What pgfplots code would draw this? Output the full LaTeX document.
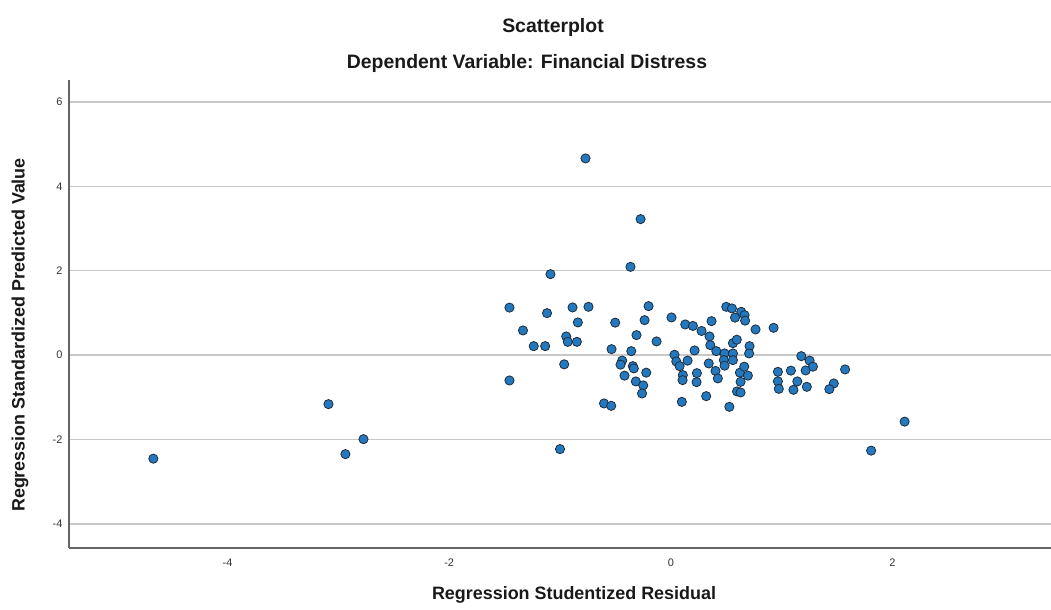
\documentclass[border=0pt]{standalone}
\usepackage{fontspec}
\setmainfont{Liberation Sans}
\usepackage{pgfplots}
\pgfplotsset{compat=1.18}
\definecolor{ptfill}{RGB}{35,120,190}
\definecolor{ptedge}{RGB}{30,45,60}
\definecolor{gridc}{RGB}{200,200,200}
\begin{document}
\begin{tikzpicture}[x=1bp,y=1bp]
\path[use as bounding box] (0,0) rectangle (1051,610);
\begin{axis}[
  at={(69bp,62bp)}, anchor=south west,
  scale only axis, width=982bp, height=468bp,
  xmin=-5.43, xmax=3.43, ymin=-4.57, ymax=6.52,
  axis lines*=left,
  axis line style={draw=black!60, line width=1.2bp},
  xtick={-4,-2,0,2}, xticklabels={-4,-2,0,2},
  ytick={-4,-2,0,2,4,6}, yticklabels={-4,-2,0,2,4,6},
  ymajorgrids, major grid style={draw=gridc, line width=1.4bp},
  major tick length=0pt,
  tick label style={font=\fontsize{11}{13}\selectfont, text=black!80},
  yticklabel style={xshift=-3bp},
  xticklabel style={yshift=-7bp},
  clip=false,
]
\addplot[only marks, mark=*, mark size=4.6bp,
  mark options={fill=ptfill, draw=ptedge, line width=0.8bp}]
coordinates {
(-0.770,4.661) (-0.273,3.223) (-0.364,2.092) (-1.086,1.919)
(-3.089,-1.161) (-2.936,-2.346) (-2.773,-1.991) (-4.669,-2.453)
(-1.000,-2.227) (1.807,-2.263) (2.109,-1.576)
(-1.456,1.126) (-1.117,0.995) (-0.887,1.130) (-0.743,1.145)
(-1.334,0.585) (-0.839,0.775) (-1.237,0.213) (-1.134,0.213)
(-0.944,0.443) (-0.930,0.315) (-0.848,0.315) (-0.962,-0.218)
(-1.456,-0.600) (-0.502,0.770) (-0.201,1.161) (-0.237,0.829)
(0.006,0.893) (-0.310,0.474) (-0.129,0.325) (-0.535,0.142)
(-0.357,0.095) (-0.439,-0.130) (-0.454,-0.225) (-0.343,-0.261)
(-0.334,-0.315) (-0.222,-0.415) (-0.418,-0.486) (-0.316,-0.623)
(-0.249,-0.718) (-0.260,-0.908) (-0.603,-1.145) (-0.538,-1.201)
(0.130,0.727) (0.199,0.692) (0.277,0.573) (0.367,0.806)
(0.500,1.145) (0.551,1.107) (0.635,1.026) (0.665,0.948)
(0.579,0.889) (0.670,0.818) (0.764,0.609) (0.927,0.647)
(0.349,0.443) (0.356,0.237) (0.410,0.095) (0.214,0.111)
(0.033,0.009) (0.049,-0.149) (0.151,-0.130) (0.079,-0.261)
(0.560,0.284) (0.595,0.365) (0.710,0.213) (0.706,0.040)
(0.485,0.040) (0.560,0.040) (0.478,-0.118) (0.560,-0.118)
(0.485,-0.249) (0.342,-0.197) (0.403,-0.374) (0.424,-0.552)
(0.235,-0.427) (0.232,-0.640) (0.108,-0.474) (0.106,-0.592)
(0.623,-0.415) (0.662,-0.273) (0.695,-0.486) (0.629,-0.633)
(0.597,-0.860) (0.629,-0.884) (0.319,-0.972) (0.099,-1.107)
(0.528,-1.225) (1.177,-0.024) (1.252,-0.130) (1.282,-0.273)
(1.216,-0.363) (0.966,-0.396) (1.083,-0.367) (0.966,-0.621)
(0.974,-0.799) (1.141,-0.623) (1.106,-0.822) (1.227,-0.751)
(1.470,-0.671) (1.430,-0.806) (1.572,-0.339)
};
\end{axis}
\node[font=\bfseries\fontsize{19.5}{22}\selectfont, text=black!90] at (553,583) {Scatterplot};
\node[font=\bfseries\fontsize{19.5}{22}\selectfont, text=black!90] at (527,547) {Dependent Variable: Financial Distress};
\node[font=\bfseries\fontsize{18}{21}\selectfont, text=black!90] at (574,15) {Regression Studentized Residual};
\node[font=\bfseries\fontsize{18}{21}\selectfont, text=black!90, rotate=90] at (20,275) {Regression Standardized Predicted Value};
\end{tikzpicture}
\end{document}
